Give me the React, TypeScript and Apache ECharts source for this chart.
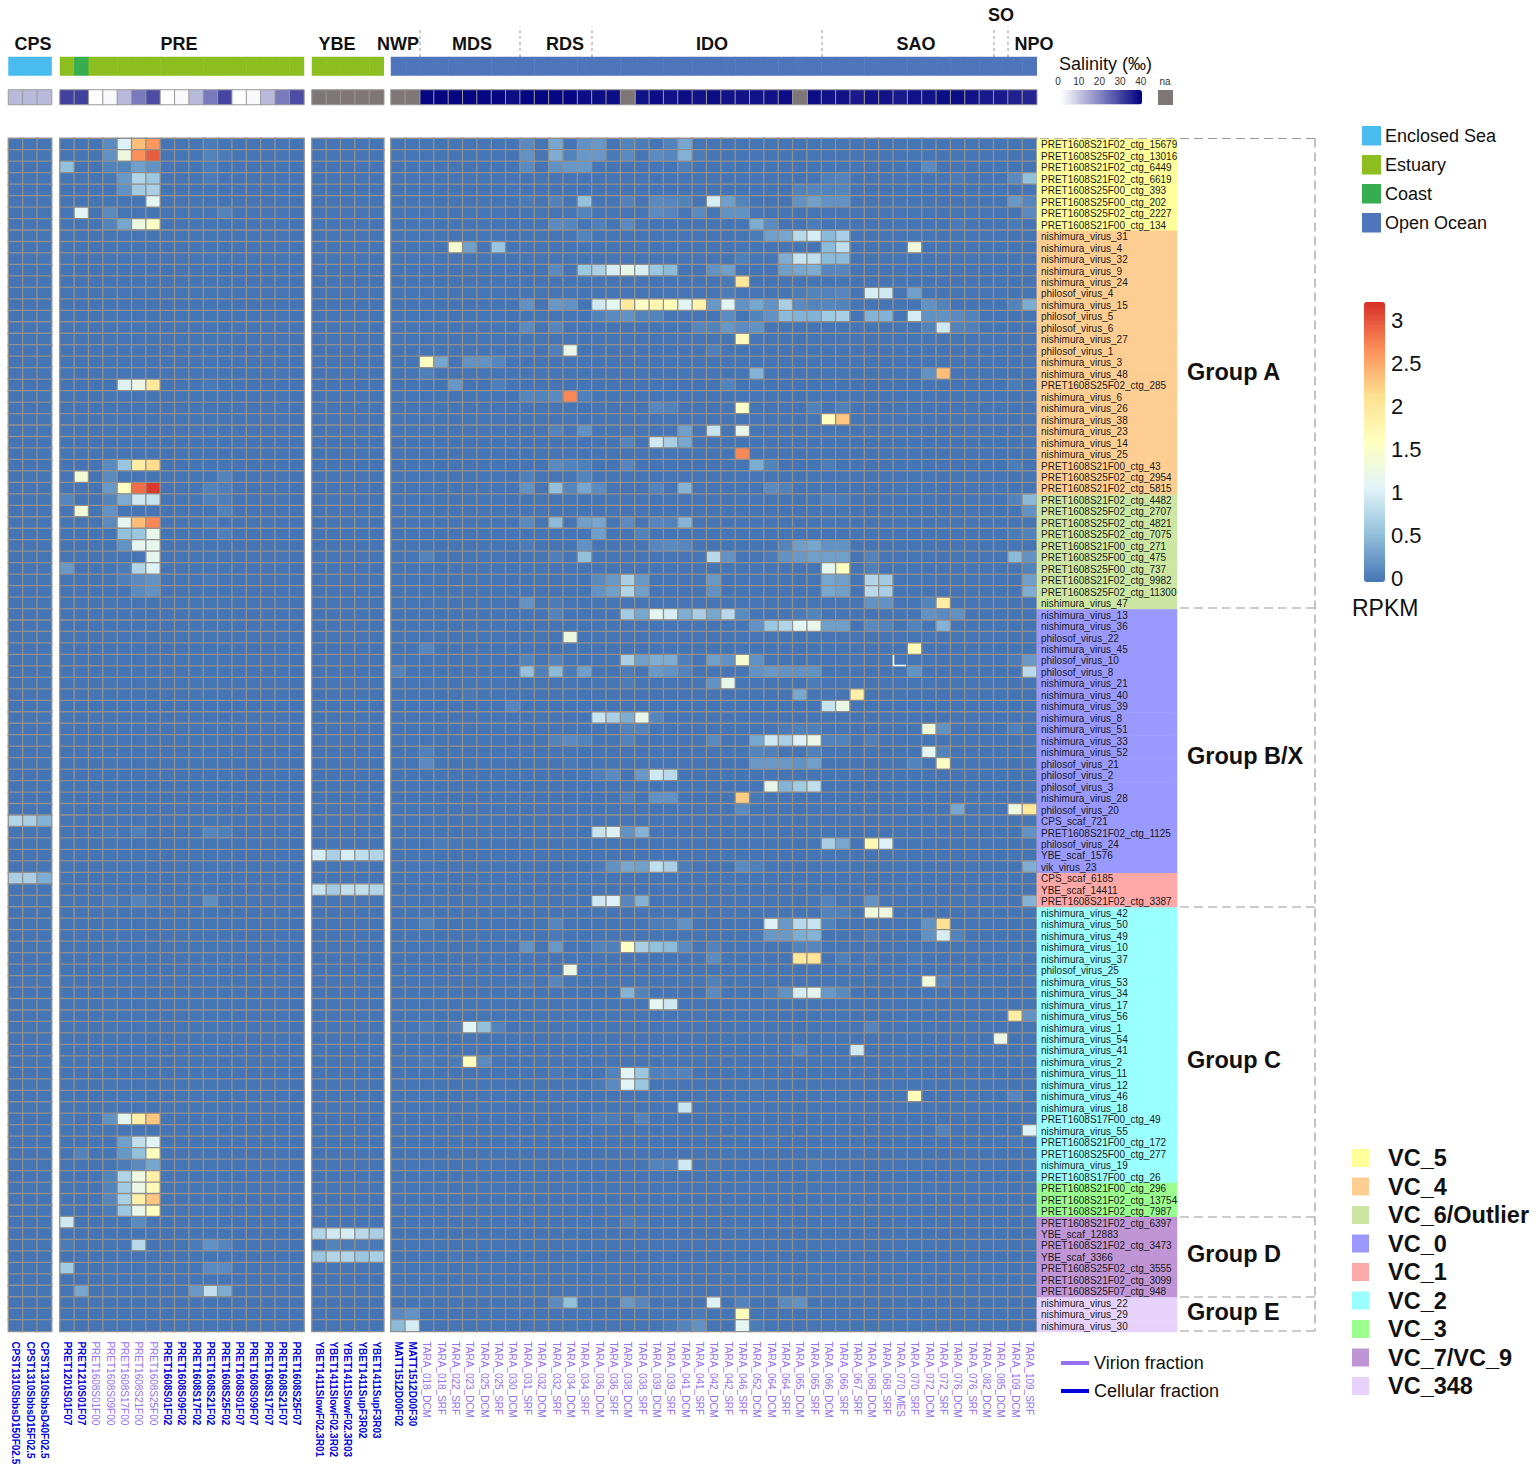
import React, { useEffect, useRef } from "react";
import * as echarts from "echarts";

const FONT = '"Liberation Sans", Arial, sans-serif';

// ---- samples (columns) ----
const samplesCps = ["CPST1310SbbsD150F02.5", "CPST1310SbbsD15F02.5", "CPST1310SbbsD40F02.5"];
const samplesPre = ["PRET1201S01F07", "PRET1210S01F07", "PRET1608S01F00", "PRET1608S09F00", "PRET1608S17F00", "PRET1608S21F00", "PRET1608S25F00", "PRET1608S01F02", "PRET1608S09F02", "PRET1608S17F02", "PRET1608S21F02", "PRET1608S25F02", "PRET1608S01F07", "PRET1608S09F07", "PRET1608S17F07", "PRET1608S21F07", "PRET1608S25F07"];
const samplesYbe = ["YBET1411SlowF02.3R01", "YBET1411SlowF02.3R02", "YBET1411SlowF02.3R03", "YBET1411SupF3R02", "YBET1411SupF3R03"];
const samplesOcean = ["MATT1512D00F02", "MATT1512D00F30", "TARA_018_DCM", "TARA_018_SRF", "TARA_022_SRF", "TARA_023_DCM", "TARA_025_DCM", "TARA_025_SRF", "TARA_030_DCM", "TARA_031_SRF", "TARA_032_DCM", "TARA_032_SRF", "TARA_034_DCM", "TARA_034_SRF", "TARA_036_DCM", "TARA_036_SRF", "TARA_038_DCM", "TARA_038_SRF", "TARA_039_DCM", "TARA_039_SRF", "TARA_041_DCM", "TARA_041_SRF", "TARA_042_DCM", "TARA_042_SRF", "TARA_046_SRF", "TARA_052_DCM", "TARA_064_DCM", "TARA_064_SRF", "TARA_065_DCM", "TARA_065_SRF", "TARA_066_DCM", "TARA_066_SRF", "TARA_067_SRF", "TARA_068_DCM", "TARA_068_SRF", "TARA_070_MES", "TARA_070_SRF", "TARA_072_DCM", "TARA_072_SRF", "TARA_076_DCM", "TARA_076_SRF", "TARA_082_DCM", "TARA_085_DCM", "TARA_109_DCM", "TARA_109_SRF"];

// ---- viral clusters (rows) ----
const rowsVc5 = ["PRET1608S21F02_ctg_15679", "PRET1608S25F02_ctg_13016", "PRET1608S21F02_ctg_6449", "PRET1608S21F02_ctg_6619", "PRET1608S25F00_ctg_393", "PRET1608S25F00_ctg_202", "PRET1608S25F02_ctg_2227", "PRET1608S21F00_ctg_134"];
const rowsVc4 = ["nishimura_virus_31", "nishimura_virus_4", "nishimura_virus_32", "nishimura_virus_9", "nishimura_virus_24", "philosof_virus_4", "nishimura_virus_15", "philosof_virus_5", "philosof_virus_6", "nishimura_virus_27", "philosof_virus_1", "nishimura_virus_3", "nishimura_virus_48", "PRET1608S25F02_ctg_285", "nishimura_virus_6", "nishimura_virus_26", "nishimura_virus_38", "nishimura_virus_23", "nishimura_virus_14", "nishimura_virus_25", "PRET1608S21F00_ctg_43", "PRET1608S25F02_ctg_2954", "PRET1608S21F02_ctg_5815"];
const rowsVc6 = ["PRET1608S21F02_ctg_4482", "PRET1608S25F02_ctg_2707", "PRET1608S25F02_ctg_4821", "PRET1608S25F02_ctg_7075", "PRET1608S21F00_ctg_271", "PRET1608S25F00_ctg_475", "PRET1608S25F00_ctg_737", "PRET1608S21F02_ctg_9982", "PRET1608S25F02_ctg_11300", "nishimura_virus_47"];
const rowsVc0 = ["nishimura_virus_13", "nishimura_virus_36", "philosof_virus_22", "nishimura_virus_45", "philosof_virus_10", "philosof_virus_8", "nishimura_virus_21", "nishimura_virus_40", "nishimura_virus_39", "nishimura_virus_8", "nishimura_virus_51", "nishimura_virus_33", "nishimura_virus_52", "philosof_virus_21", "philosof_virus_2", "philosof_virus_3", "nishimura_virus_28", "philosof_virus_20", "CPS_scaf_721", "PRET1608S21F02_ctg_1125", "philosof_virus_24", "YBE_scaf_1576", "vik_virus_23"];
const rowsVc1 = ["CPS_scaf_6185", "YBE_scaf_14411", "PRET1608S21F02_ctg_3387"];
const rowsVc2 = ["nishimura_virus_42", "nishimura_virus_50", "nishimura_virus_49", "nishimura_virus_10", "nishimura_virus_37", "philosof_virus_25", "nishimura_virus_53", "nishimura_virus_34", "nishimura_virus_17", "nishimura_virus_56", "nishimura_virus_1", "nishimura_virus_54", "nishimura_virus_41", "nishimura_virus_2", "nishimura_virus_11", "nishimura_virus_12", "nishimura_virus_46", "nishimura_virus_18", "PRET1608S17F00_ctg_49", "nishimura_virus_55", "PRET1608S21F00_ctg_172", "PRET1608S25F00_ctg_277", "nishimura_virus_19", "PRET1608S17F00_ctg_26"];
const rowsVc3 = ["PRET1608S21F00_ctg_296", "PRET1608S21F02_ctg_13754", "PRET1608S21F02_ctg_7987"];
const rowsVc7 = ["PRET1608S21F02_ctg_6397", "YBE_scaf_12883", "PRET1608S21F02_ctg_3473", "YBE_scaf_3366", "PRET1608S25F02_ctg_3555", "PRET1608S21F02_ctg_3099", "PRET1608S25F07_ctg_948"];
const rowsVc348 = ["nishimura_virus_22", "nishimura_virus_29", "nishimura_virus_30"];

// ---- RPKM: [row, column, value]; every other cell is 0 ----
const cellsCps = [[59, 0, 0.75], [59, 1, 0.7], [59, 2, 0.45], [64, 0, 0.7], [64, 1, 0.7], [64, 2, 0.4]];
const cellsYbe = [[62, 0, 1.0], [62, 1, 0.7], [62, 2, 1.0], [62, 3, 0.85], [62, 4, 0.75], [65, 0, 0.9], [65, 1, 0.65], [65, 2, 0.85], [65, 3, 0.85], [65, 4, 0.75], [95, 0, 0.75], [95, 1, 0.95], [95, 2, 1.0], [95, 3, 0.8], [95, 4, 0.7], [96, 1, 0.1], [96, 2, 0.05], [96, 3, 0.05], [96, 4, 0.03], [97, 0, 0.6], [97, 1, 0.75], [97, 2, 0.75], [97, 3, 0.6], [97, 4, 0.7]];
const cellsPre = [
  [0, 3, 0.15], [0, 4, 1.05], [0, 5, 2.35], [0, 6, 2.6], [0, 10, 0.05],
  [1, 3, 0.2], [1, 4, 1.3], [1, 5, 2.65], [1, 6, 2.95], [1, 10, 0.1], [1, 11, 0.05],
  [2, 0, 0.55], [2, 3, 0.1], [2, 4, 0.1], [2, 5, 0.3], [2, 6, 0.2], [2, 10, 0.05],
  [3, 3, 0.02], [3, 4, 0.25], [3, 5, 0.75], [3, 6, 0.6], [3, 10, 0.05], [4, 4, 0.2], [4, 5, 0.65], [4, 6, 0.7], [5, 6, 1.15],
  [6, 1, 1.1], [6, 3, 0.15], [6, 11, 0.1], [7, 3, 0.1], [7, 4, 0.35], [7, 5, 1.3], [7, 6, 1.55],
  [21, 4, 1.05], [21, 5, 1.25], [21, 6, 2.0], [21, 10, 0.03],
  [28, 3, 0.15], [28, 4, 0.6], [28, 5, 1.9], [28, 6, 2.15], [29, 1, 1.4], [29, 3, 0.15], [29, 11, 0.1],
  [30, 3, 0.25], [30, 4, 1.6], [30, 5, 2.85], [30, 6, 3.15], [30, 10, 0.1], [30, 11, 0.08],
  [31, 0, 0.12], [31, 3, 0.1], [31, 4, 0.4], [31, 5, 0.95], [31, 6, 0.9], [31, 10, 0.08], [31, 11, 0.08],
  [32, 1, 1.4], [32, 3, 0.2], [32, 11, 0.1], [33, 3, 0.15], [33, 4, 1.15], [33, 5, 2.35], [33, 6, 2.7], [33, 10, 0.05],
  [34, 4, 0.55], [34, 5, 0.6], [34, 6, 1.2], [34, 11, 0.08], [35, 4, 0.2], [35, 5, 1.15], [35, 6, 1.2], [36, 6, 1.15],
  [37, 0, 0.25], [37, 4, 0.05], [37, 5, 0.75], [37, 6, 1.05], [38, 4, 0.08], [38, 5, 0.15], [38, 6, 0.2], [38, 10, 0.03], [39, 5, 0.15], [39, 6, 0.2],
  [60, 3, 0.03], [60, 5, 0.08], [60, 10, 0.12], [60, 11, 0.08], [66, 3, 0.05], [66, 5, 0.1], [66, 6, 0.05], [66, 10, 0.18],
  [85, 0, 0.03], [85, 3, 0.2], [85, 4, 1.15], [85, 5, 1.85], [85, 6, 2.3], [87, 4, 0.3], [87, 5, 0.85], [87, 6, 1.1],
  [88, 1, 0.1], [88, 4, 0.25], [88, 5, 0.55], [88, 6, 1.6], [89, 4, 0.05], [89, 5, 0.15], [89, 6, 0.35],
  [90, 3, 0.1], [90, 4, 0.75], [90, 5, 1.3], [90, 6, 1.85], [91, 3, 0.1], [91, 4, 0.65], [91, 5, 1.25], [91, 6, 1.7],
  [92, 3, 0.12], [92, 4, 0.7], [92, 5, 1.85], [92, 6, 2.3], [93, 3, 0.05], [93, 4, 0.6], [93, 5, 1.2], [93, 6, 1.6],
  [94, 0, 0.95], [94, 5, 0.15], [96, 0, 0.05], [96, 5, 0.8], [96, 9, 0.05], [96, 10, 0.2], [96, 11, 0.12],
  [98, 0, 0.65], [98, 10, 0.15], [98, 11, 0.15], [100, 1, 0.35], [100, 9, 0.25], [100, 10, 0.85], [100, 11, 0.4],
];
const cellsOceanTop = [
  [0, 9, 0.15], [0, 11, 0.35], [0, 13, 0.2], [0, 14, 0.25], [0, 16, 0.1], [0, 17, 0.05], [0, 19, 0.1], [0, 20, 0.35],
  [1, 9, 0.2], [1, 11, 0.4], [1, 12, 0.1], [1, 13, 0.25], [1, 14, 0.25], [1, 15, 0.03], [1, 16, 0.15], [1, 18, 0.15], [1, 19, 0.12], [1, 20, 0.45], [1, 21, 0.05],
  [2, 9, 0.15], [2, 11, 0.2], [2, 12, 0.25], [2, 13, 0.25], [2, 20, 0.08], [2, 37, 0.15],
  [3, 30, 0.08], [3, 31, 0.1], [3, 39, 0.05], [3, 43, 0.15], [3, 44, 0.55], [4, 28, 0.1], [4, 29, 0.12], [4, 30, 0.1], [4, 31, 0.12],
  [5, 9, 0.05], [5, 11, 0.1], [5, 13, 0.55], [5, 16, 0.1], [5, 18, 0.15], [5, 19, 0.12], [5, 20, 0.1], [5, 22, 1.0], [5, 23, 0.3], [5, 24, 0.1], [5, 28, 0.2], [5, 29, 0.3], [5, 30, 0.2], [5, 31, 0.2], [5, 43, 0.25], [5, 44, 0.12],
  [6, 13, 0.1], [6, 18, 0.15], [6, 19, 0.12], [6, 21, 0.15], [6, 23, 0.2], [6, 24, 0.2], [6, 44, 0.15],
  [7, 11, 0.15], [7, 12, 0.12], [7, 14, 0.08], [7, 16, 0.15], [7, 25, 0.4], [7, 26, 0.15], [7, 29, 0.05], [7, 39, 0.05], [7, 43, 0.05],
  [8, 13, 0.1], [8, 25, 0.05], [8, 26, 0.3], [8, 27, 0.35], [8, 28, 0.8], [8, 29, 1.0], [8, 30, 0.5], [8, 31, 0.7],
  [9, 4, 1.45], [9, 5, 0.3], [9, 7, 0.6], [9, 30, 0.5], [9, 31, 0.85], [9, 36, 1.35],
  [10, 24, 0.08], [10, 27, 0.4], [10, 28, 0.9], [10, 29, 0.85], [10, 30, 0.5], [10, 31, 0.5],
  [11, 11, 0.15], [11, 13, 0.6], [11, 14, 0.7], [11, 15, 1.0], [11, 16, 1.2], [11, 17, 1.0], [11, 18, 0.6], [11, 19, 0.5], [11, 22, 0.2], [11, 23, 0.3], [11, 27, 0.3], [11, 28, 0.35], [11, 29, 0.4], [11, 30, 0.12], [11, 31, 0.12],
  [12, 23, 0.03], [12, 24, 2.0], [13, 23, 0.06], [13, 28, 0.05], [13, 29, 0.1], [13, 30, 0.1], [13, 31, 0.12], [13, 33, 1.0], [13, 34, 0.95], [13, 36, 0.3],
  [14, 9, 0.2], [14, 11, 0.25], [14, 12, 0.2], [14, 14, 0.95], [14, 15, 1.15], [14, 16, 2.0], [14, 17, 1.55], [14, 18, 1.75], [14, 19, 1.65], [14, 20, 1.1], [14, 21, 1.8], [14, 22, 0.25], [14, 23, 1.1], [14, 24, 0.2], [14, 25, 0.35], [14, 26, 0.2], [14, 27, 0.7], [14, 28, 0.15], [14, 29, 0.1], [14, 30, 0.12], [14, 31, 0.1], [14, 37, 0.2], [14, 38, 0.1], [14, 43, 0.1], [14, 44, 0.4],
  [15, 14, 0.1], [15, 15, 0.15], [15, 16, 0.2], [15, 17, 0.1], [15, 18, 0.1], [15, 23, 0.15], [15, 25, 0.1], [15, 26, 0.2], [15, 27, 0.5], [15, 28, 0.45], [15, 29, 0.45], [15, 30, 0.65], [15, 31, 0.7], [15, 33, 0.45], [15, 34, 0.45], [15, 36, 1.0], [15, 37, 0.2], [15, 38, 0.2], [15, 39, 0.15], [15, 40, 0.1],
  [16, 9, 0.15], [16, 11, 0.12], [16, 21, 0.12], [16, 22, 0.1], [16, 23, 0.25], [16, 24, 0.15], [16, 25, 0.2], [16, 37, 0.1], [16, 38, 0.95], [16, 39, 0.1], [16, 40, 0.08],
  [17, 24, 1.65], [18, 9, 0.03], [18, 11, 0.08], [18, 12, 1.2], [18, 22, 0.08],
  [19, 2, 1.6], [19, 3, 0.35], [19, 5, 0.2], [19, 6, 0.2], [19, 7, 0.12], [20, 2, 0.08], [20, 25, 0.45], [20, 37, 0.2], [20, 38, 2.35],
  [21, 4, 0.25], [21, 7, 0.08], [21, 23, 0.1], [21, 43, 0.05], [22, 9, 0.12], [22, 10, 0.1], [22, 11, 0.15], [22, 12, 2.7], [22, 13, 0.08],
  [23, 18, 0.12], [23, 19, 0.1], [23, 24, 1.5], [23, 29, 0.08], [23, 31, 0.08], [24, 30, 1.6], [24, 31, 2.3],
  [25, 11, 0.1], [25, 13, 0.2], [25, 20, 0.3], [25, 22, 0.9], [25, 24, 1.2], [26, 16, 0.1], [26, 18, 0.95], [26, 19, 0.7], [26, 20, 0.35], [27, 24, 2.7],
  [28, 11, 0.15], [28, 12, 0.1], [28, 13, 0.08], [28, 16, 0.12], [28, 25, 0.4], [28, 26, 0.1], [28, 30, 0.06], [28, 43, 0.05], [29, 9, 0.08], [29, 13, 0.1],
  [30, 9, 0.2], [30, 11, 0.55], [30, 12, 0.12], [30, 13, 0.35], [30, 14, 0.15], [30, 18, 0.1], [30, 20, 0.45], [30, 26, 0.15], [30, 27, 0.1],
];
const cellsOceanMiddle = [
  [31, 30, 0.08], [31, 31, 0.05], [31, 43, 0.1], [31, 44, 0.5], [32, 44, 0.2],
  [33, 9, 0.15], [33, 11, 0.5], [33, 13, 0.3], [33, 14, 0.35], [33, 16, 0.15], [33, 18, 0.12], [33, 19, 0.1], [33, 20, 0.45], [33, 30, 0.02],
  [34, 14, 0.3], [34, 17, 0.1], [34, 43, 0.05], [34, 44, 0.1], [35, 9, 0.05], [35, 13, 0.2], [35, 18, 0.12], [35, 19, 0.15], [35, 20, 0.12], [35, 27, 0.1], [35, 28, 0.3], [35, 29, 0.35], [35, 30, 0.2], [35, 31, 0.2],
  [36, 2, 0.1], [36, 11, 0.07], [36, 13, 0.55], [36, 22, 0.8], [36, 23, 0.2], [36, 26, 0.05], [36, 27, 0.2], [36, 28, 0.25], [36, 29, 0.3], [36, 30, 0.3], [36, 31, 0.3], [36, 33, 0.1], [36, 43, 0.5], [36, 44, 0.2],
  [37, 30, 1.15], [37, 31, 1.6], [37, 33, 0.08], [37, 44, 0.1], [38, 14, 0.15], [38, 15, 0.25], [38, 16, 0.7], [38, 17, 0.25], [38, 22, 0.25], [38, 30, 0.35], [38, 31, 0.3], [38, 33, 0.75], [38, 34, 0.65], [38, 44, 0.3],
  [39, 14, 0.2], [39, 15, 0.3], [39, 16, 0.75], [39, 17, 0.3], [39, 22, 0.2], [39, 30, 0.35], [39, 31, 0.3], [39, 33, 0.8], [39, 34, 0.7], [39, 44, 0.4],
  [40, 9, 0.2], [40, 11, 0.05], [40, 33, 0.2], [40, 34, 0.2], [40, 37, 0.1], [40, 38, 1.9],
  [41, 11, 0.1], [41, 16, 0.65], [41, 17, 0.35], [41, 18, 1.15], [41, 19, 1.0], [41, 20, 0.4], [41, 21, 0.7], [41, 22, 0.35], [41, 23, 0.8], [41, 24, 0.15], [41, 28, 0.05], [41, 29, 0.1], [41, 37, 0.2], [41, 38, 0.15], [41, 39, 0.2],
  [42, 25, 0.2], [42, 26, 0.6], [42, 27, 0.75], [42, 28, 1.1], [42, 29, 1.2], [42, 30, 0.3], [42, 31, 0.3], [42, 33, 0.15], [42, 34, 0.1], [42, 36, 0.1], [42, 38, 0.45],
  [43, 12, 1.3], [44, 2, 0.12], [44, 36, 1.7],
  [45, 9, 0.1], [45, 11, 0.1], [45, 16, 0.7], [45, 17, 0.3], [45, 18, 0.4], [45, 19, 0.4], [45, 20, 0.08], [45, 22, 0.3], [45, 23, 0.2], [45, 24, 1.45], [45, 25, 0.2], [45, 43, 0.05], [45, 44, 0.25],
  [46, 0, 0.1], [46, 9, 0.55], [46, 10, 0.08], [46, 11, 0.5], [46, 12, 0.05], [46, 13, 0.3], [46, 16, 0.05], [46, 18, 0.25], [46, 19, 0.2], [46, 20, 0.1], [46, 25, 0.2], [46, 26, 0.25], [46, 27, 0.2], [46, 28, 0.2], [46, 29, 0.2], [46, 36, 0.2], [46, 44, 0.8],
  [47, 16, 0.05], [47, 22, 0.2], [47, 23, 1.2], [47, 29, 0.05], [48, 5, 0.03], [48, 28, 0.35], [48, 32, 1.85], [49, 8, 0.12], [49, 30, 0.9], [49, 31, 1.25],
  [50, 14, 0.9], [50, 15, 0.7], [50, 16, 0.4], [50, 17, 1.2], [50, 18, 0.12], [51, 16, 0.1], [51, 17, 0.1], [51, 27, 0.05], [51, 28, 0.08], [51, 29, 0.08], [51, 37, 1.35], [51, 38, 0.2], [51, 43, 0.08],
  [52, 11, 0.1], [52, 12, 0.15], [52, 13, 0.1], [52, 16, 0.1], [52, 22, 0.15], [52, 25, 0.35], [52, 26, 0.95], [52, 27, 0.7], [52, 28, 1.05], [52, 29, 1.25], [52, 30, 0.1], [52, 31, 0.1], [52, 33, 0.08],
  [53, 2, 0.08], [53, 25, 0.1], [53, 26, 0.08], [53, 29, 0.08], [53, 37, 1.15], [53, 38, 0.1],
  [54, 2, 0.15], [54, 12, 0.03], [54, 25, 0.25], [54, 26, 0.25], [54, 27, 0.25], [54, 28, 0.2], [54, 29, 0.3], [54, 36, 0.1], [54, 38, 1.55],
  [55, 14, 0.08], [55, 15, 0.15], [55, 17, 0.25], [55, 18, 0.95], [55, 19, 0.8], [56, 26, 1.2], [56, 27, 0.45], [56, 28, 0.65], [56, 29, 0.85],
  [57, 16, 0.08], [57, 18, 0.2], [57, 19, 0.2], [57, 24, 2.25], [57, 25, 0.03], [58, 24, 0.15], [58, 39, 0.35], [58, 43, 1.3], [58, 44, 2.0],
  [60, 14, 0.9], [60, 15, 1.05], [60, 16, 0.2], [60, 17, 0.45], [60, 44, 0.2], [61, 3, 0.05], [61, 4, 0.03], [61, 30, 0.7], [61, 31, 0.35], [61, 33, 1.7], [61, 34, 1.05],
];
const cellsOceanBottom = [
  [63, 14, 0.05], [63, 15, 0.2], [63, 16, 0.35], [63, 17, 0.3], [63, 18, 0.85], [63, 19, 0.7], [63, 20, 0.05], [63, 24, 0.15], [63, 25, 0.08], [63, 44, 0.4],
  [66, 14, 0.95], [66, 15, 1.05], [66, 16, 0.12], [66, 17, 0.45], [66, 30, 0.1], [66, 33, 0.2], [66, 44, 0.45],
  [67, 30, 0.1], [67, 31, 0.08], [67, 33, 1.35], [67, 34, 1.3],
  [68, 2, 0.1], [68, 11, 0.12], [68, 18, 0.06], [68, 19, 0.06], [68, 20, 0.2], [68, 26, 1.05], [68, 27, 0.25], [68, 28, 0.8], [68, 29, 0.9], [68, 30, 0.1], [68, 37, 0.2], [68, 38, 2.1],
  [69, 11, 0.03], [69, 25, 0.03], [69, 26, 0.25], [69, 27, 0.25], [69, 28, 0.4], [69, 29, 0.45], [69, 33, 0.06], [69, 37, 0.2], [69, 38, 1.0], [69, 39, 0.1],
  [70, 9, 0.2], [70, 11, 0.25], [70, 14, 0.1], [70, 15, 0.08], [70, 16, 1.55], [70, 17, 0.7], [70, 18, 0.55], [70, 19, 0.5], [70, 20, 0.15], [70, 22, 0.1], [70, 28, 0.1], [70, 29, 0.12],
  [71, 22, 0.15], [71, 28, 2.0], [71, 29, 2.05], [71, 31, 0.08], [71, 33, 0.05], [71, 36, 0.05], [71, 43, 0.05],
  [72, 12, 1.25], [73, 9, 0.05], [73, 11, 0.12], [73, 22, 0.08], [73, 37, 1.35], [73, 38, 0.1],
  [74, 16, 0.45], [74, 17, 0.1], [74, 22, 0.15], [74, 26, 0.08], [74, 27, 0.2], [74, 28, 1.0], [74, 29, 1.15], [74, 30, 0.25], [74, 31, 0.15],
  [75, 18, 1.15], [75, 19, 0.95], [76, 43, 1.9], [76, 44, 0.2],
  [77, 2, 0.05], [77, 4, 0.06], [77, 5, 1.1], [77, 6, 0.55], [77, 7, 0.1], [77, 33, 0.12], [78, 42, 1.25], [79, 28, 0.1], [79, 32, 0.95],
  [80, 2, 0.05], [80, 4, 0.05], [80, 5, 1.6], [80, 6, 0.15],
  [81, 11, 0.03], [81, 15, 0.1], [81, 16, 1.1], [81, 17, 0.6], [81, 18, 0.08], [81, 19, 0.08], [81, 20, 0.1],
  [82, 14, 0.05], [82, 15, 0.15], [82, 16, 1.1], [82, 17, 0.6], [82, 25, 0.05], [83, 36, 1.65], [83, 43, 0.12],
  [84, 20, 0.9], [85, 14, 0.06], [85, 15, 0.06], [85, 17, 0.1], [86, 38, 0.1], [86, 44, 1.05], [87, 26, 0.02], [87, 43, 0.03],
  [89, 18, 0.1], [89, 19, 0.1], [89, 20, 0.95], [89, 22, 0.05], [89, 29, 0.05], [94, 16, 0.06], [94, 17, 0.03], [97, 4, 0.03],
  [101, 11, 0.15], [101, 12, 0.55], [101, 16, 0.25], [101, 17, 0.12], [101, 22, 1.05], [101, 24, 0.1], [101, 27, 0.15], [101, 28, 0.2],
  [102, 0, 0.15], [102, 1, 0.2], [102, 21, 0.05], [102, 24, 1.65],
  [103, 0, 0.5], [103, 1, 1.0], [103, 19, 0.05], [103, 20, 0.1], [103, 21, 0.2], [103, 24, 1.15], [103, 25, 0.05],
];

// ---- salinity strip (‰), -1 = not available ----
const salinityCps = [11, 11, 11];
const salinityPre = [30, 30, 0, 1, 11, 21, 28, 0, 1, 11, 21, 29, 0, 1, 11, 21, 28];
const salinityYbe = [-1, -1, -1, -1, -1];
const salinityOcean = [-1, -1, 39, 39, 39, 39, 39, 39, 38, 39, 39, 39, 39, 38, 38, 38, -1, 37, 38, 37, 38, 37, 38, 37, 37, 37, 37, 38, -1, 38, 37, 37, 36, 37, 37, 36, 37, 37, 38, 38, 37, 36, 36, 35, 34];

// ---- region strip codes: 0 Enclosed Sea, 1 Estuary, 2 Coast, 3 Open Ocean ----
const regionCps = [0, 0, 0];
const regionPre = [1, 2, 1, 1, 1, 1, 1, 1, 1, 1, 1, 1, 1, 1, 1, 1, 1];
const regionYbe = [1, 1, 1, 1, 1];
const regionOcean = samplesOcean.map(() => 3);

const regionNames = ["Enclosed Sea", "Estuary", "Coast", "Open Ocean"];
const regionColors = ["#4ABBEE", "#8DBE1F", "#36AE4F", "#4F75BA"];
const vcNames = ["VC_5", "VC_4", "VC_6/Outlier", "VC_0", "VC_1", "VC_2", "VC_3", "VC_7/VC_9", "VC_348"];
const vcColors = ["#FFFF99", "#FDCD92", "#CBE6A3", "#9999FF", "#FFA8A8", "#99FFFF", "#99FF8F", "#BF95D6", "#E6D2FA"];
const vcRows = [rowsVc5, rowsVc4, rowsVc6, rowsVc0, rowsVc1, rowsVc2, rowsVc3, rowsVc7, rowsVc348];
const heatRamp = ["#4575B4", "#91BFDB", "#E0F3F8", "#FFFFBF", "#FEE090", "#FC8D59", "#D73027"];
const rkpmTicks = ["3", "2.5", "2", "1.5", "1", "0.5", "0"];
const salinityTicks = ["0", "10", "20", "30", "40"];
const oceanRegions: [string, number, number][] = [["CPS", 33, 44], ["PRE", 179, 44], ["YBE", 337, 44], ["NWP", 398, 44], ["MDS", 472, 44], ["RDS", 565, 44], ["IDO", 712, 44], ["SAO", 916, 44], ["SO", 1001, 15], ["NPO", 1034, 44]];
const regionDividers = [420, 520, 592, 822, 994, 1008];
const groupNames: [string, number][] = [["Group A", 372], ["Group B/X", 756], ["Group C", 1060], ["Group D", 1254], ["Group E", 1312]];
const groupEdges = [138.5, 608, 907, 1217, 1297, 1331];

const NA_CODE = 13;
const NA_COLOR = "#7F7777";
const VIRION = "#9370EE";
const CELLULAR = "#0000DD";
const COL = 14.35;
const TOP = 138.5;
const HEIGHT = 1192.9;

function sampleColor(name: string) {
  const virion = name.startsWith("TARA") || /F00$/.test(name);
  return { color: virion ? VIRION : CELLULAR, fontWeight: virion ? "normal" : "bold" };
}

function buildOption() {
  const rows = vcRows.flat();
  const panels = [
    { left: 8.5, samples: samplesCps, cells: cellsCps, sal: salinityCps, reg: regionCps },
    { left: 60, samples: samplesPre, cells: cellsPre, sal: salinityPre, reg: regionPre },
    { left: 312, samples: samplesYbe, cells: cellsYbe, sal: salinityYbe, reg: regionYbe },
    { left: 391, samples: samplesOcean, cells: [...cellsOceanTop, ...cellsOceanMiddle, ...cellsOceanBottom], sal: salinityOcean, reg: regionOcean },
  ];

  const grid: any[] = [];
  const xAxis: any[] = [];
  const yAxis: any[] = [];
  const series: any[] = [];
  const hiddenAxis = { axisLine: { show: false }, axisTick: { show: false }, axisLabel: { show: false }, splitLine: { show: false } };
  const addGrid = (left: number, top: number, width: number, height: number, xData: string[], yData: string[], xExtra: any = {}, yExtra: any = {}) => {
    const i = grid.length;
    grid.push({ left, top, width, height, containLabel: false, show: false });
    xAxis.push({ type: "category", gridIndex: i, data: xData, ...hiddenAxis, ...xExtra });
    yAxis.push({ type: "category", gridIndex: i, data: yData, inverse: true, ...hiddenAxis, ...yExtra });
    return i;
  };
  const heat = (i: number, data: number[][], borderColor: string | null, borderWidth = 1) => ({
    type: "heatmap",
    xAxisIndex: i,
    yAxisIndex: i,
    data,
    progressive: 0,
    silent: true,
    emphasis: { disabled: true },
    itemStyle: borderColor ? { borderColor, borderWidth } : { borderWidth: 0 },
  });

  // 0..3 : RPKM panels
  panels.forEach((p) => {
    const i = addGrid(p.left, TOP, p.samples.length * COL, HEIGHT, p.samples.map((s) => s), rows, {
      data: p.samples.map((s) => ({ value: s, textStyle: sampleColor(s) })),
      axisLabel: { show: true, interval: 0, rotate: -90, margin: 10, fontSize: 10, fontFamily: FONT, hideOverlap: false },
    });
    const lookup = new Map(p.cells.map((c) => [c[0] + ":" + c[1], c[2]]));
    const data: number[][] = [];
    rows.forEach((_, r) => p.samples.forEach((_, c) => data.push([c, r, lookup.get(r + ":" + c) ?? 0])));
    series.push(heat(i, data, "#909090", 1.3));
  });
  // 4..7 : salinity strips (known values)
  const salinityGrids: number[] = [];
  panels.forEach((p) => {
    const i = addGrid(p.left, 90, p.samples.length * COL, 14.5, p.samples, ["salinity"]);
    salinityGrids.push(i);
    const data: number[][] = [];
    p.sal.forEach((v, c) => { if (v >= 0) data.push([c, 0, v]); });
    series.push(heat(i, data, "#9A9A9A"));
  });
  // 8..11 : region strips
  panels.forEach((p) => {
    const i = addGrid(p.left, 57, p.samples.length * COL, 18.5, p.samples, ["region"]);
    series.push(heat(i, p.reg.map((v, c) => [c, 0, v]), null));
  });
  // 12 : VC strip with the row labels
  const stripI = addGrid(1037, TOP + 0.6, 140, HEIGHT, ["vc"], rows, {}, {
    z: 10,
    axisLabel: { show: true, inside: true, interval: 0, margin: 4, fontSize: 10, color: "#1a1a1a", fontFamily: FONT, hideOverlap: false },
  });
  const stripData: number[][] = [];
  let rowIndex = 0;
  vcRows.forEach((group, g) => group.forEach(() => stripData.push([0, rowIndex++, g + 4])));
  series.push(heat(stripI, stripData, null));
  // 13..16 : salinity cells without a value
  panels.forEach((p, k) => {
    const data: number[][] = [];
    p.sal.forEach((v, c) => { if (v < 0) data.push([c, 0, NA_CODE]); });
    series.push(heat(salinityGrids[k], data, "#9A9A9A"));
  });

  const txt = (text: string, x: number, y: number, size: number, extra: any = {}) => ({
    type: "text",
    z: 20,
    silent: true,
    style: { text, x, y, font: `${extra.bold ? "bold " : ""}${size}px ${FONT}`, fill: extra.fill ?? "#111", textAlign: extra.align ?? "left", textVerticalAlign: "middle" },
  });
  const rect = (x: number, y: number, width: number, height: number, fill: string) => ({ type: "rect", z: 20, silent: true, shape: { x, y, width, height }, style: { fill } });
  const dash = (x1: number, y1: number, x2: number, y2: number, z = 1) => ({
    type: "line",
    z,
    silent: true,
    shape: { x1, y1, x2, y2 },
    style: { stroke: "#9A9A9A", lineWidth: 1.2, lineDash: [9, 5] },
  });

  const graphic: any[] = [];
  oceanRegions.forEach(([n, x, y]) => graphic.push(txt(n, x, y, 18, { bold: true, align: "center" })));
  regionDividers.forEach((x) => graphic.push({ type: "line", z: 1, silent: true, shape: { x1: x, y1: 30, x2: x, y2: 57 }, style: { stroke: "#999", lineWidth: 1, lineDash: [3, 3] } }));
  graphic.push(txt("Salinity (‰)", 1059, 64, 18));
  salinityTicks.forEach((t, i) => graphic.push(txt(t, 1058 + i * 20.7, 81, 10, { align: "center", fill: "#333" })));
  graphic.push(txt("na", 1165, 81, 10, { align: "center", fill: "#333" }));
  graphic.push(rect(1158, 90, 15, 15, NA_COLOR));
  regionNames.forEach((n, i) => {
    const y = 126 + i * 29;
    graphic.push(rect(1362, y, 19, 19.5, regionColors[i]));
    graphic.push(txt(n, 1385, y + 10, 18));
  });
  rkpmTicks.forEach((t, i) => graphic.push(txt(t, 1391, 320 + i * 43, 22)));
  graphic.push(txt("RPKM", 1352, 608, 23));
  groupNames.forEach(([n, y]) => graphic.push(txt(n, 1187, y, 23.5, { bold: true })));
  groupEdges.forEach((y) => graphic.push(dash(1040, y, 1315, y)));
  graphic.push(dash(1315, TOP, 1315, 1331));
  vcNames.forEach((n, i) => {
    const y = 1158 + i * 28.5;
    graphic.push(rect(1352, y - 9, 17, 18, vcColors[i]));
    graphic.push(txt(n, 1388, y, 23.5, { bold: true }));
  });
  graphic.push({ type: "line", z: 20, silent: true, shape: { x1: 1061, y1: 1363, x2: 1089, y2: 1363 }, style: { stroke: VIRION, lineWidth: 4 } });
  graphic.push({ type: "line", z: 20, silent: true, shape: { x1: 1061, y1: 1391, x2: 1089, y2: 1391 }, style: { stroke: CELLULAR, lineWidth: 4 } });
  graphic.push(txt("Virion fraction", 1094, 1363, 18));
  graphic.push(txt("Cellular fraction", 1094, 1391, 18));
  // the small white corner that the reference shows on one cell's edge
  graphic.push({ type: "polyline", z: 20, silent: true, shape: { points: [[893.5, 655], [893.5, 665.5], [906, 665.5]] }, style: { stroke: "#fff", lineWidth: 1.5, fill: "none" } });

  const visualMap: any[] = [
    { type: "continuous", seriesIndex: [0, 1, 2, 3], dimension: 2, min: 0, max: 3.2, left: 1364, top: 302, itemWidth: 21, itemHeight: 280, padding: 0, calculable: false, hoverLink: false, inRange: { color: heatRamp } },
    { type: "continuous", seriesIndex: [4, 5, 6, 7], dimension: 2, min: 0, max: 40, orient: "horizontal", left: 1061, top: 90, itemWidth: 14.5, itemHeight: 81, padding: 0, calculable: false, hoverLink: false, inRange: { color: ["#FFFFFF", "#00007F"] } },
    {
      type: "piecewise",
      show: false,
      seriesIndex: [8, 9, 10, 11, 12, 13, 14, 15, 16],
      dimension: 2,
      pieces: [...regionColors.map((color, i) => ({ value: i, color })), ...vcColors.map((color, i) => ({ value: i + 4, color })), { value: NA_CODE, color: NA_COLOR }],
    },
  ];

  return { animation: false, backgroundColor: "#fff", textStyle: { fontFamily: FONT }, grid, xAxis, yAxis, series, visualMap, graphic };
}

export default function App() {
  const ref = useRef<HTMLDivElement>(null);
  useEffect(() => {
    const chart = echarts.init(ref.current!, undefined, { renderer: "svg" });
    chart.setOption(buildOption() as any);
    return () => chart.dispose();
  }, []);
  return <div ref={ref} style={{ position: "absolute", left: 0, top: 0, width: 1536, height: 1470 }} />;
}
